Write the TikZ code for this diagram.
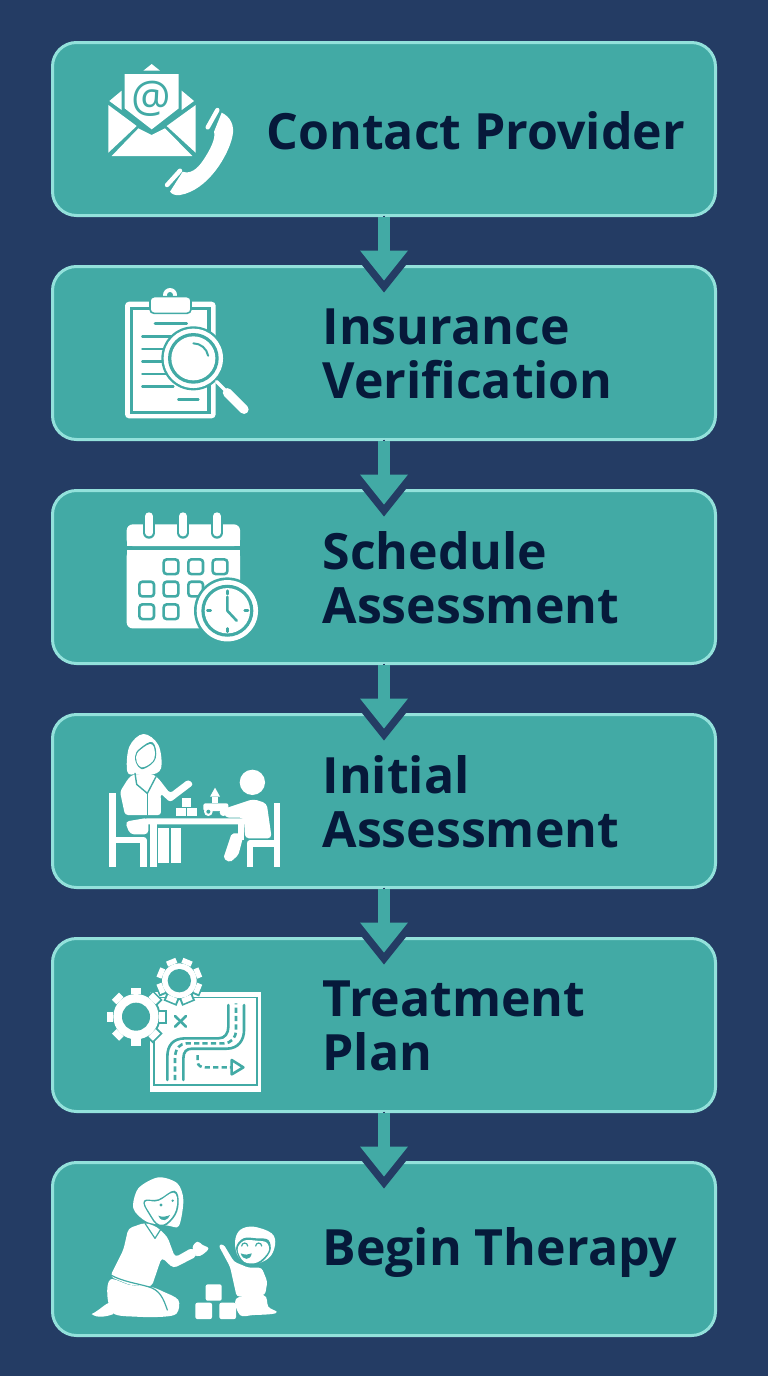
\documentclass[tikz,border=0pt]{standalone}
\usepackage{fontspec}
\setmainfont{Open Sans}
\usetikzlibrary{arrows.meta, positioning, calc}
\definecolor{pagebg}{HTML}{243C64}
\definecolor{stepfill}{HTML}{42AAA5}
\definecolor{stepedge}{HTML}{93E1DB}
\definecolor{labelink}{HTML}{06193A}
\newcommand{\gearicon}[6]{% x, y, body radius, outer radius, hole radius, rotation
  \foreach \a in {0,45,...,315} {
    \draw[stepfill, line width=7pt] ($(#1,#2)+(\a+#6:#3)$) -- ($(#1,#2)+(\a+#6:#4+5)$);
  }
  \fill[stepfill] (#1,#2) circle (#3+6);
  \foreach \a in {0,45,...,315} {
    \draw[white, line width=5pt] ($(#1,#2)+(\a+#6:#3)$) -- ($(#1,#2)+(\a+#6:#4)$);
  }
  \fill[white] (#1,#2) circle (#3);
  \fill[stepfill] (#1,#2) circle (#5);
}
\begin{document}
\begin{tikzpicture}
[x=0.5pt, y=-0.5pt,
   stepbox/.style={shape=rectangle, rounded corners=12pt, draw=stepedge, line width=1.5pt, fill=stepfill, minimum width=331.5pt, minimum height=86.5pt, outer sep=0pt},
   steplabel/.style={font=\bfseries\fontsize{25}{27}\selectfont, text=labelink, align=left, inner sep=0pt, outer sep=0pt, yshift=-0.6pt},
   flowback/.style={draw=pagebg, line width=1pt, shorten >=-13pt, arrows={-Triangle[length=21pt, width=33.6pt, line width=0pt, fill=pagebg]}},
   flowarrow/.style={draw=stepfill, line width=6pt, shorten <=0.75pt, shorten >=-7pt, arrows={-Triangle[length=15pt, width=24pt, line width=0pt, fill=stepfill]}},
   iconcut/.style={draw=stepfill, line width=1.3pt, line cap=round, line join=round},
   icondash/.style={draw=stepfill, line width=1.3pt, dash pattern=on 2.6pt off 1.6pt},
   iconline/.style={draw=white, line cap=round, line join=round}]
\useasboundingbox (0,0) rectangle (768,1376);
\fill[pagebg] (0,0) rectangle (768,1376);
\node[stepbox] (contact) at (384,129) {};
\node[stepbox] (insurance) [below=25.5pt of contact] {};
\node[stepbox] (schedule) [below=25.5pt of insurance] {};
\node[stepbox] (initial) [below=25.5pt of schedule] {};
\node[stepbox] (treatment) [below=25.5pt of initial] {};
\node[stepbox] (therapy) [below=25.5pt of treatment] {};
\node[steplabel] (contactL) [right=107pt of contact.west, yshift=-0.4pt] {Contact Provider};
\node[steplabel] (insuranceL) [right=135pt of insurance.west] {Insurance\\Verification};
\node[steplabel] (scheduleL) [right=135pt of schedule.west] {Schedule\\Assessment};
\node[steplabel] (initialL) [right=135pt of initial.west] {Initial\\Assessment};
\node[steplabel] (treatmentL) [right=135pt of treatment.west] {Treatment\\Plan};
\node[steplabel] (therapyL) [right=135pt of therapy.west, yshift=-0.9pt] {Begin Therapy};
\draw [flowback] (contact.south) -- (insurance.north);
\draw [flowarrow] (contact.south) -- (insurance.north);
\draw [flowback] (insurance.south) -- (schedule.north);
\draw [flowarrow] (insurance.south) -- (schedule.north);
\draw [flowback] (schedule.south) -- (initial.north);
\draw [flowarrow] (schedule.south) -- (initial.north);
\draw [flowback] (initial.south) -- (treatment.north);
\draw [flowarrow] (initial.south) -- (treatment.north);
\draw [flowback] (treatment.south) -- (therapy.north);
\draw [flowarrow] (treatment.south) -- (therapy.north);
% mail and phone
\begin{scope}[shift={(40,30)}, x=0.1667pt, y=-0.1667pt]
\fill[white] (310,122) -- (335,102) -- (360,122) -- cycle;
\fill[white] (208,213) -- (245,182) -- (245,240) -- cycle;
\fill[white] (425,182) -- (462,213) -- (425,240) -- cycle;
\fill[white] (254,132) -- (416,132) -- (416,235) -- (335,298) -- (254,235) -- cycle;
\fill[white] (205,225) -- (290,288) -- (205,368) -- cycle;
\fill[white] (467,225) -- (380,288) -- (467,368) -- cycle;
\fill[white] (215,378) -- (295,295) -- (335,315) -- (375,295) -- (457,378) -- cycle;
\node[text=stepfill, font=\fontsize{22}{22}\selectfont, inner sep=0pt] (atsign) at (335,205) {@};
\fill[white] (545,248) .. controls (570,260) and (585,285) .. (577,320) .. controls (565,375) and (505,480) .. (420,495) .. controls (405,497) and (395,492) .. (390,485) -- (428,425) .. controls (450,432) and (470,420) .. (490,390) .. controls (510,360) and (528,325) .. (522,305) -- cycle;
\draw[iconline, line width=2.2pt] (532,240) -- (503,292);
\draw[iconline, line width=2.2pt] (420,422) -- (381,465);
\end{scope}
% clipboard and magnifier
\begin{scope}[shift={(90,280)}, x=0.1667pt, y=-0.1667pt]
\fill[white, rounded corners=2pt] (105,65) rectangle (377,415);
\fill[stepfill] (120,80) rectangle (362,402);
\fill[white] (130,90) rectangle (352,392);
\fill[white] (240,45) circle (21);
\fill[stepfill] (240,45) circle (9);
\fill[white, rounded corners=2pt, draw=stepfill, line width=0.8pt] (180,50) rectangle (303,100);
\draw[iconcut] (195,130) -- (290,130);
\foreach \ly in {170,207,244,282,319} {\draw[iconcut] (157,\ly) -- (250,\ly);}
\draw[iconcut] (265,358) -- (325,358);
\fill[stepfill] (310,235) circle (96);
\fill[white] (310,235) circle (89);
\fill[stepfill] (310,235) circle (76);
\fill[white] (310,235) circle (66);
\draw[iconcut, line width=1pt] (310,190) arc (270:350:45);
\draw[iconline, line width=1.7pt] (380,305) -- (415,340);
\draw[iconline, line width=4.6pt] (412,338) -- (462,388);
% calendar and clock
\fill[white, rounded corners=3pt] (110,798) -- (110,733) -- (450,733) -- (450,798) -- cycle;
\fill[white, rounded corners=3pt] (110,810) -- (450,810) -- (450,1045) -- (110,1045) -- cycle;
\fill[white] (110,780) rectangle (450,798);
\fill[white] (110,810) rectangle (450,830);
\foreach \rx in {177,279,381} {
  \draw[stepfill, line width=6pt, line cap=round] (\rx,710) -- (\rx,758);
  \draw[iconline, line width=3.7pt] (\rx,708) -- (\rx,758);
}
\foreach \sx/\sy in {243/860,317/860,390/860,170/927,243/927,317/927,170/995,243/995} {
  \draw[draw=stepfill, line width=1.3pt, rounded corners=1.5pt] (\sx-22,\sy-22) rectangle (\sx+22,\sy+22);
}
\fill[stepfill] (412,992) circle (100);
\fill[white] (412,992) circle (92);
\fill[stepfill] (412,992) circle (78);
\fill[white] (412,992) circle (68);
\draw[iconcut] (412,950) -- (412,992) -- (440,1022);
\draw[iconcut] (412,932) -- (412,942);
\draw[iconcut] (412,1045) -- (412,1055);
\draw[iconcut] (352,992) -- (362,992);
\draw[iconcut] (464,992) -- (474,992);
\end{scope}
% therapist and child at a table
\begin{scope}[shift={(90,725)}, x=0.1667pt, y=-0.1667pt]
\draw[iconline, line width=3.2pt, line cap=butt] (68,205) -- (68,425);
\draw[iconline, line width=3.2pt, line cap=butt] (68,345) -- (160,345) -- (160,425);
\draw[iconline, line width=3.2pt, line cap=butt] (561,235) -- (561,425);
\draw[iconline, line width=3.2pt, line cap=butt] (561,355) -- (479,355) -- (479,425);
\fill[white] plot[smooth cycle, tension=0.6] coordinates {(112,140) (118,65) (160,27) (205,60) (213,130) (180,150) (140,148)};
\fill[stepfill] plot[smooth cycle, tension=0.7] coordinates {(135,95) (150,70) (188,52) (197,100) (165,130) (145,125)};
\fill[white] plot[smooth cycle, tension=0.7] coordinates {(138,96) (152,74) (186,58) (193,100) (165,125) (147,122)};
\fill[white, rounded corners=1.5pt] (115,160) -- (130,148) -- (190,148) -- (205,160) -- (240,205) -- (295,163) -- (311,178) -- (240,232) -- (212,205) -- (213,270) -- (105,270) -- (90,200) -- cycle;
\draw[iconcut, line width=0.7pt] (135,145) -- (140,178) -- (172,205) -- (198,155);
\draw[iconcut, line width=0.7pt] (172,205) -- (172,270);
\fill[white, rounded corners=2pt] (105,290) -- (175,278) -- (175,328) -- (120,328) -- cycle;
\fill[white] (205,310) rectangle (238,415);
\fill[white] (242,310) rectangle (272,415);
\fill[white, rounded corners=1pt] (165,280) rectangle (470,298);
\fill[white] (180,298) rectangle (200,425);
\fill[white] (445,298) rectangle (462,345);
\fill[white] (487,172) circle (38);
\fill[white, rounded corners=2pt] (400,252) -- (490,222) -- (530,235) -- (545,340) -- (465,340) -- (462,278) -- (405,278) -- cycle;
\fill[white, rounded corners=1pt] (425,325) -- (462,325) -- (445,390) -- (420,412) -- (400,400) -- cycle;
\fill[white] (275,218) rectangle (303,245);
\fill[white] (258,248) rectangle (288,273);
\fill[white] (292,248) rectangle (320,273);
\fill[white] (375,188) -- (360,215) -- (390,215) -- cycle;
\fill[white] (365,215) rectangle (385,235);
\fill[white, rounded corners=1pt] (340,235) rectangle (415,258);
\fill[white] (355,260) circle (13);
\fill[stepfill] (355,260) circle (6);
\fill[white] (400,262) circle (11);
\end{scope}
% gears and route map
\begin{scope}[shift={(90,950)}, x=0.1667pt, y=-0.1667pt]
\fill[white] (180,125) rectangle (512,425);
\draw[draw=stepfill, line width=0.8pt] (192,143) rectangle (500,405);
\draw[iconcut] (232,390) -- (232,320) .. controls (232,285) and (250,265) .. (285,265) -- (385,265) .. controls (405,265) and (415,250) .. (415,230) -- (415,165);
\draw[iconcut] (280,390) -- (280,325) .. controls (280,305) and (290,296) .. (305,296) -- (410,296) .. controls (445,296) and (462,270) .. (462,240) -- (462,165);
\draw[icondash] (255,390) -- (255,325) .. controls (255,295) and (270,280) .. (290,280) -- (400,280) .. controls (425,280) and (438,262) .. (438,240) -- (438,160);
\draw[iconcut] (255,198) -- (288,230);
\draw[iconcut] (288,198) -- (255,230);
\draw[icondash] (323,315) -- (323,335) .. controls (323,347) and (333,352) .. (345,352) -- (425,352);
\draw[iconcut] (425,330) -- (460,352) -- (425,373) -- cycle;
\gearicon{138}{200}{68}{87}{42}{0}
\gearicon{268}{92}{52}{68}{35}{22.5}
\end{scope}
% therapist and child with blocks
\begin{scope}[shift={(80,1170)}, x=0.1667pt, y=-0.1667pt]
\fill[white] plot[smooth cycle, tension=0.5] coordinates {(160,115) (175,55) (235,22) (292,40) (310,90) (297,167) (265,167) (200,155)};
\fill[stepfill] plot[smooth cycle, tension=0.7] coordinates {(192,92) (235,88) (283,62) (296,100) (280,145) (240,170) (205,130)};
\fill[white] plot[smooth cycle, tension=0.7] coordinates {(196,95) (235,93) (280,68) (291,100) (276,142) (240,164) (209,128)};
\fill[stepfill] (243,105) circle (5);
\fill[stepfill] (278,92) circle (4);
\fill[stepfill] (235,137) .. controls (245,142) and (260,140) .. (270,135) .. controls (265,150) and (245,160) .. (235,137) -- cycle;
\fill[white, rounded corners=2pt] (145,175) -- (195,158) -- (230,170) -- (262,200) -- (285,262) -- (338,232) -- (352,258) -- (280,295) -- (245,262) -- (215,350) -- (150,345) -- (90,320) -- (130,240) -- cycle;
\fill[white] plot[smooth cycle, tension=0.6] coordinates {(338,232) (352,215) (368,225) (385,235) (370,252) (350,258)};
\draw[iconcut, line width=0.6pt] (195,160) -- (225,205) -- (242,178);
\fill[white] plot[smooth cycle, tension=0.55] coordinates {(92,328) (150,345) (210,350) (250,365) (295,390) (290,430) (250,440) (170,440) (100,430) (82,375)};
\fill[white] (35,432) .. controls (60,420) and (75,400) .. (95,395) -- (100,432) .. controls (80,440) and (50,445) .. (35,432) -- cycle;
\draw[iconcut, line width=0.6pt] (92,315) .. controls (130,335) and (170,340) .. (205,350);
\draw[iconcut, line width=0.6pt] (205,350) .. controls (240,360) and (250,385) .. (262,420);
\fill[white] plot[smooth cycle, tension=0.6] coordinates {(520,170) (575,190) (585,225) (565,265) (510,285) (475,260) (465,215) (480,180)};
\fill[stepfill] plot[smooth cycle, tension=0.6] coordinates {(468,235) (490,205) (530,205) (565,210) (570,245) (535,282) (490,280)};
\fill[white] plot[smooth cycle, tension=0.6] coordinates {(473,238) (492,212) (530,212) (560,218) (565,245) (532,277) (492,275)};
\draw[iconcut, line width=0.6pt] (485,228) arc (180:360:9);
\draw[iconcut, line width=0.6pt] (527,228) arc (180:360:9);
\fill[stepfill] (482,250) .. controls (495,255) and (505,255) .. (515,250) .. controls (512,272) and (488,272) .. (482,250) -- cycle;
\fill[white, rounded corners=1.5pt] (415,225) -- (430,222) -- (462,275) -- (505,293) -- (545,293) -- (562,335) -- (555,375) -- (470,380) -- (450,290) -- cycle;
\fill[white] plot[smooth cycle, tension=0.6] coordinates {(470,385) (550,375) (565,410) (590,425) (575,432) (520,435) (480,435)};
\fill[white, rounded corners=1pt] (377,343) rectangle (425,392);
\fill[white, rounded corners=1pt] (346,398) rectangle (396,447);
\fill[white, rounded corners=1pt] (418,398) rectangle (468,447);
\end{scope}
\end{tikzpicture}
\end{document}
